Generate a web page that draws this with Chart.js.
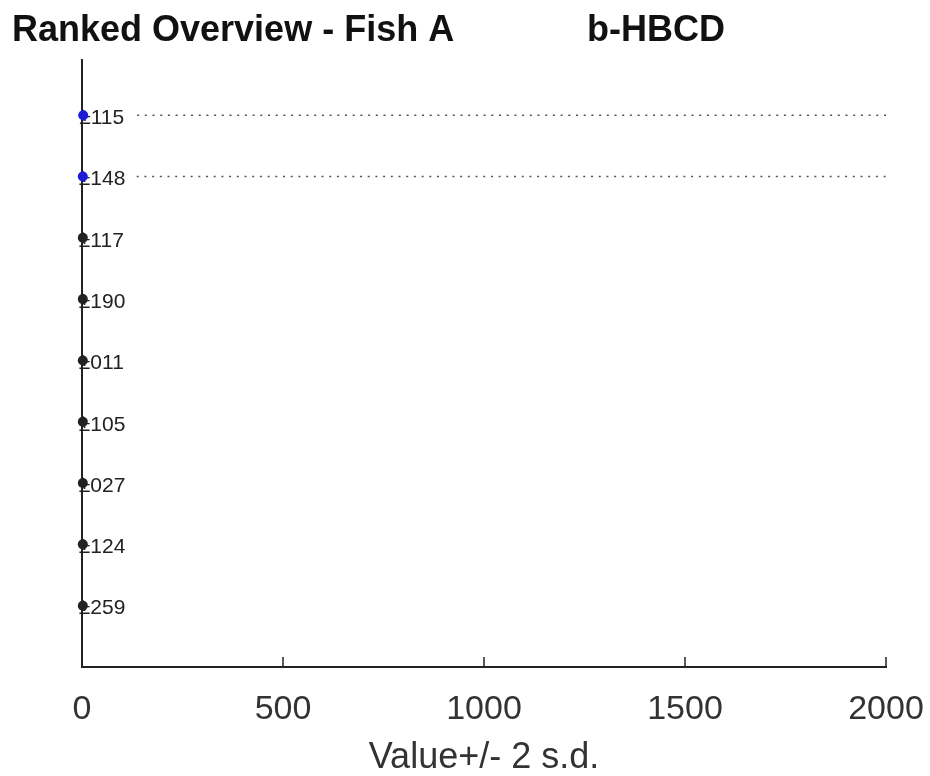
<!DOCTYPE html>
<html>
<head>
<meta charset="utf-8">
<script src="https://cdn.jsdelivr.net/npm/chart.js@4"></script>
<style>
  body { margin: 0; background: #fff; }
  #wrap { width: 930px; height: 776px; }
</style>
</head>
<body>
<div id="wrap"><canvas id="rankChart" width="930" height="776"></canvas></div>
<script>
// lab codes in ranked order (top to bottom)
const labs = ['115', '148', '117', '190', '011', '105', '027', '124', '259'];
const values = [3, 2, 2, 2, 2, 2, 2, 2, 2];
// upper end of the dotted (off-scale) uncertainty line, null = none
const upperEnds = [2600, 2600, null, null, null, null, null, null, null];
const pointColors = ['#1c1cd8', '#1c1cd8', '#222', '#222', '#222', '#222', '#222', '#222', '#222'];
const xTicks = [0, 500, 1000, 1500, 2000];

const FONT = '"Liberation Sans", Arial, sans-serif';
const points = values.map((v, i) => ({ x: v, y: i + 1 }));

const dottedSets = [];
upperEnds.forEach((u, i) => {
    if (u === null) return;
    dottedSets.push({
        type: 'line',
        data: [{ x: values[i], y: i + 1 }, { x: u, y: i + 1 }],
        borderColor: '#555',
        borderWidth: 1.5,
        borderDash: [2, 5.7],
        pointRadius: 0,
        fill: false
    });
});

const decorations = {
    id: 'decorations',
    afterDatasetsDraw(chart) {
        const ctx = chart.ctx;
        const xs = chart.scales.x;
        const ys = chart.scales.y;
        ctx.save();
        // labels next to the points
        ctx.font = '21px ' + FONT;
        ctx.textBaseline = 'middle';
        labs.forEach((lab, i) => {
            const px = xs.getPixelForValue(values[i]);
            const py = ys.getPixelForValue(i + 1);
            const txt = '\u00b1' + lab;
            const w = ctx.measureText(txt).width;
            ctx.fillStyle = '#fff';
            ctx.fillRect(px + 1, py - 10, w + 5, 22);
            ctx.fillStyle = '#222';
            ctx.fillText(txt, px - 4, py + 3);
        });
        // redraw the markers on top of the labels
        const meta = chart.getDatasetMeta(chart.data.datasets.length - 1);
        meta.data.forEach((pt, i) => {
            ctx.beginPath();
            ctx.arc(pt.x, pt.y, 5, 0, Math.PI * 2);
            ctx.fillStyle = pointColors[i];
            ctx.fill();
        });
        // inward tick marks on the x axis
        ctx.strokeStyle = '#222';
        ctx.lineWidth = 1.5;
        xTicks.forEach(t => {
            if (t === 0) return;
            const px = xs.getPixelForValue(t);
            ctx.beginPath();
            ctx.moveTo(px, ys.bottom);
            ctx.lineTo(px, ys.bottom - 10);
            ctx.stroke();
        });
        // title
        ctx.fillStyle = '#111';
        ctx.font = 'bold 36px ' + FONT;
        ctx.textBaseline = 'alphabetic';
        ctx.textAlign = 'left';
        ctx.fillText('Ranked Overview - Fish A', 12, 41);
        ctx.fillText('b-HBCD', 587, 41);
        ctx.restore();
    }
};

new Chart(document.getElementById('rankChart').getContext('2d'), {
    type: 'scatter',
    data: {
        datasets: [...dottedSets, {
            data: points,
            pointBackgroundColor: pointColors,
            pointBorderColor: pointColors,
            pointRadius: 5
        }]
    },
    options: {
        responsive: false,
        animation: false,
        layout: { padding: { left: 82, right: 44, top: 60, bottom: 0 } },
        plugins: { legend: { display: false }, tooltip: { enabled: false } },
        scales: {
            x: {
                type: 'linear',
                min: 0,
                max: 2000,
                afterBuildTicks: axis => { axis.ticks = xTicks.map(v => ({ value: v })); },
                afterFit: axis => {
                    axis.height = 109;
                    axis.paddingLeft = 0;
                    axis.paddingRight = 0;
                },
                grid: { display: false },
                border: { display: true, color: '#222', width: 2 },
                ticks: {
                    color: '#333',
                    padding: 18,
                    maxRotation: 0,
                    callback: v => String(v),
                    font: { family: FONT, size: 34, lineHeight: 1 }
                },
                title: {
                    display: true,
                    text: 'Value+/- 2 s.d.',
                    color: '#333',
                    padding: { top: 13, bottom: 0 },
                    font: { family: FONT, size: 36, lineHeight: 1 }
                }
            },
            y: {
                type: 'linear',
                reverse: true,
                min: 0.1,
                max: 10,
                afterFit: axis => {
                    axis.width = 0;
                    axis.paddingTop = 0;
                    axis.paddingBottom = 0;
                },
                grid: { display: false },
                border: { display: true, color: '#222', width: 2 },
                ticks: { display: false }
            }
        }
    },
    plugins: [decorations]
});
</script>
</body>
</html>
